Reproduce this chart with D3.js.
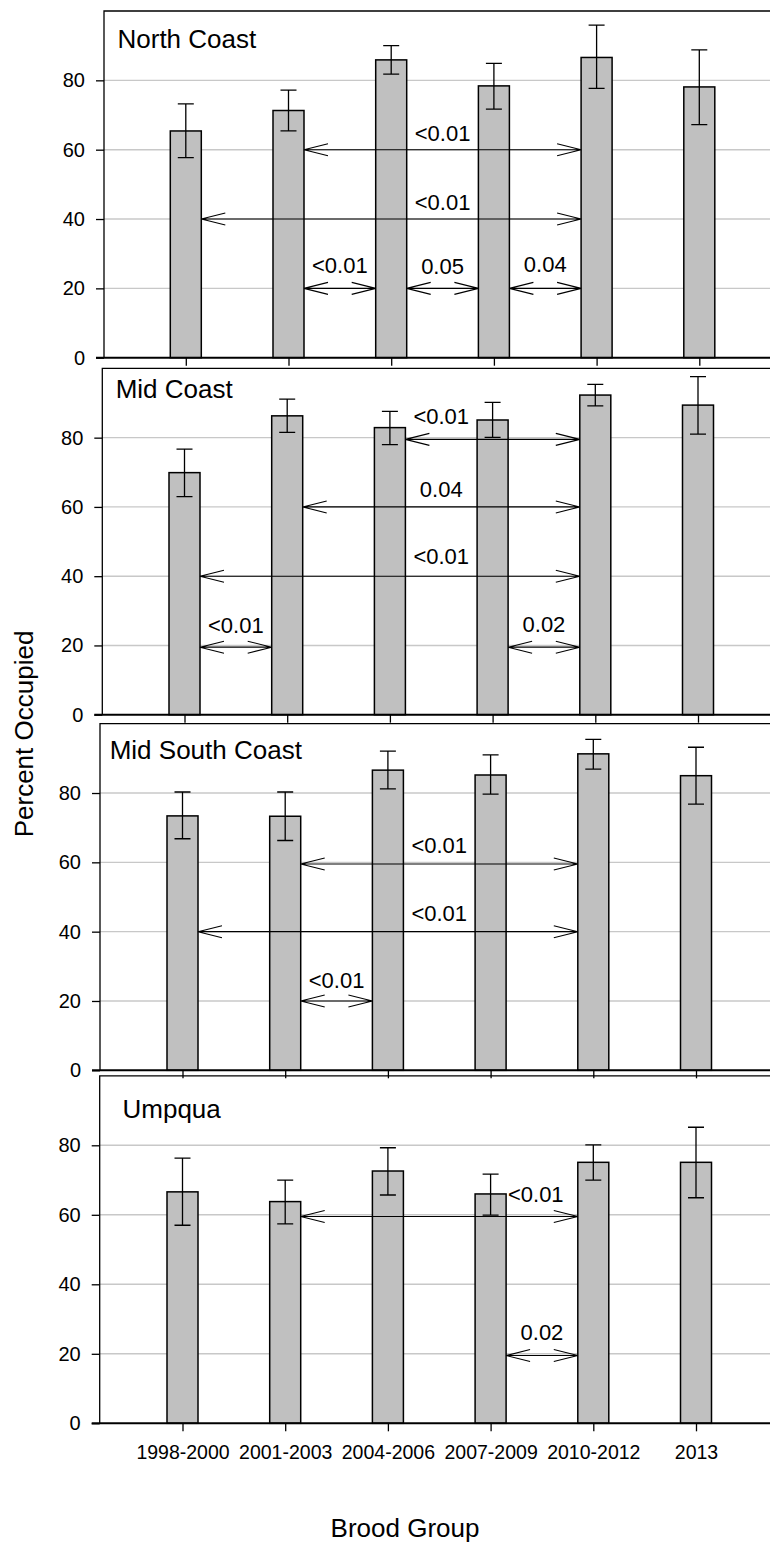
<!DOCTYPE html>
<html>
<head>
<meta charset="utf-8">
<script src="https://cdn.jsdelivr.net/npm/d3@7"></script>
<style>
  html, body { margin: 0; padding: 0; background: #fff; }
  svg { display: block; font-family: "Liberation Sans", Arial, Helvetica, sans-serif; }
</style>
</head>
<body>
<div id="chart"></div>
<script>
// ---------- DATA ----------
const categories = ["1998-2000", "2001-2003", "2004-2006", "2007-2009", "2010-2012", "2013"];
const regions = ["North Coast", "Mid Coast", "Mid South Coast", "Umpqua"];
const yTicks = [0, 20, 40, 60, 80];

const northCoastMean = [65.4, 71.3, 85.9, 78.4, 86.6, 78.1];
const northCoastLow  = [57.7, 65.4, 81.8, 71.7, 77.7, 67.2];
const northCoastHigh = [73.2, 77.2, 90.0, 84.9, 95.9, 88.8];

const midCoastMean = [69.9, 86.3, 82.9, 85.1, 92.3, 89.4];
const midCoastLow  = [63.0, 81.5, 78.0, 80.1, 89.2, 81.0];
const midCoastHigh = [76.7, 91.1, 87.6, 90.2, 95.4, 97.6];

const midSouthMean = [73.4, 73.3, 86.6, 85.2, 91.3, 85.0];
const midSouthLow  = [66.8, 66.3, 81.2, 79.7, 86.9, 76.8];
const midSouthHigh = [80.3, 80.3, 92.1, 91.0, 95.5, 93.2];

const umpquaMean = [66.6, 63.8, 72.6, 66.0, 75.1, 75.1];
const umpquaLow  = [57.0, 57.4, 65.7, 59.9, 70.0, 64.9];
const umpquaHigh = [76.3, 70.0, 79.3, 71.7, 80.1, 85.2];

// pairwise comparisons: from/to category index, arrow value, p label, label index position, label value position
const northCoastTests = [
  {from: 1, to: 4, at: 60, p: "<0.01", lx: 2.5, ly: 62.6},
  {from: 0, to: 4, at: 40, p: "<0.01", lx: 2.5, ly: 42.6},
  {from: 1, to: 2, at: 20, p: "<0.01", lx: 1.5, ly: 24.3},
  {from: 2, to: 3, at: 20, p: "0.05",  lx: 2.5, ly: 24.0},
  {from: 3, to: 4, at: 20, p: "0.04",  lx: 3.5, ly: 24.8}
];
const midCoastTests = [
  {from: 2, to: 4, at: 79.5, p: "<0.01", lx: 2.5, ly: 84.0},
  {from: 1, to: 4, at: 60,   p: "0.04",  lx: 2.5, ly: 62.8},
  {from: 0, to: 4, at: 40,   p: "<0.01", lx: 2.5, ly: 43.5},
  {from: 0, to: 1, at: 19.5, p: "<0.01", lx: 0.5, ly: 23.5},
  {from: 3, to: 4, at: 19.5, p: "0.02",  lx: 3.5, ly: 24.0}
];
const midSouthTests = [
  {from: 1, to: 4, at: 59.5, p: "<0.01", lx: 2.5, ly: 62.7},
  {from: 0, to: 4, at: 40,   p: "<0.01", lx: 2.5, ly: 43.0},
  {from: 1, to: 2, at: 20,   p: "<0.01", lx: 1.5, ly: 23.8}
];
const umpquaTests = [
  {from: 1, to: 4, at: 59.5, p: "<0.01", lx: 3.44, ly: 63.8},
  {from: 3, to: 4, at: 19.5, p: "0.02",  lx: 3.5,  ly: 24.0}
];

const panelMeans = [northCoastMean, midCoastMean, midSouthMean, umpquaMean];
const panelLows = [northCoastLow, midCoastLow, midSouthLow, umpquaLow];
const panelHighs = [northCoastHigh, midCoastHigh, midSouthHigh, umpquaHigh];
const panelTests = [northCoastTests, midCoastTests, midSouthTests, umpquaTests];

// ---------- LAYOUT ----------
const W = 770, H = 1543;
const layout = [
  {top: 11,     bottom: 357.7,  left: 104,   c0: 185.8, tx: 117.5, ty: 48.3},
  {top: 368.4,  bottom: 714.7,  left: 102.3, c0: 184.5, tx: 115.7, ty: 397.7},
  {top: 723.7,  bottom: 1070.3, left: 100,   c0: 182.5, tx: 109.7, ty: 759},
  {top: 1075.8, bottom: 1423.3, left: 99.7,  c0: 182.5, tx: 122.5, ty: 1118}
];
const rightEdge = 780;
const step = 102.7;
const barW = 31;
const capW = 16;

const svg = d3.select("#chart").append("svg")
  .attr("width", W).attr("height", H).attr("viewBox", `0 0 ${W} ${H}`);

layout.forEach((L, pi) => {
  const means = panelMeans[pi], lows = panelLows[pi], highs = panelHighs[pi], tests = panelTests[pi];
  const xi = d3.scaleLinear().domain([0, categories.length - 1]).range([L.c0, L.c0 + step * (categories.length - 1)]);
  const x = d3.scalePoint().domain(categories).range([L.c0, L.c0 + step * (categories.length - 1)]);
  const y = d3.scaleLinear().domain([0, 100]).range([L.bottom, L.top]);
  const g = svg.append("g");

  // gridlines
  g.append("g").selectAll("line").data(yTicks.filter(t => t > 0)).join("line")
    .attr("x1", L.left).attr("x2", rightEdge)
    .attr("y1", d => y(d)).attr("y2", d => y(d))
    .attr("stroke", "#c8c8c8").attr("stroke-width", 1.4);

  // y axis ticks and labels
  const yAxis = d3.axisLeft(y).tickValues(yTicks).tickSize(8).tickPadding(11).tickFormat(d3.format("d"));
  const ya = g.append("g").attr("transform", `translate(${L.left},0)`).call(yAxis);
  ya.select(".domain").remove();
  ya.selectAll(".tick line").attr("stroke", "#000").attr("stroke-width", 1.3);
  ya.selectAll(".tick text").attr("font-size", 20).attr("fill", "#000")
    .attr("font-family", '"Liberation Sans", Arial, sans-serif');

  // frame (top, left; right side runs off the canvas)
  g.append("path")
    .attr("d", `M${L.left},${L.bottom}V${L.top}H${rightEdge}V${L.bottom}`)
    .attr("fill", "none").attr("stroke", "#000").attr("stroke-width", 1.3);

  // bars
  g.append("g").selectAll("rect").data(categories).join("rect")
    .attr("x", d => x(d) - barW / 2)
    .attr("y", (d, i) => y(means[i]))
    .attr("width", barW)
    .attr("height", (d, i) => y(0) - y(means[i]))
    .attr("fill", "#c0c0c0").attr("stroke", "#000").attr("stroke-width", 1.5);

  // error bars
  const eb = g.append("g").attr("stroke", "#000").attr("stroke-width", 1.3).attr("fill", "none");
  eb.selectAll("path").data(categories).join("path")
    .attr("d", (d, i) => {
      const cx = x(d), yl = y(lows[i]), yh = y(highs[i]);
      return `M${cx},${yh}V${yl}M${cx - capW / 2},${yh}H${cx + capW / 2}M${cx - capW / 2},${yl}H${cx + capW / 2}`;
    });

  // zero line + bottom ticks
  const xAxis = d3.axisBottom(x).tickSize(8).tickPadding(14).tickSizeOuter(0);
  const xa = g.append("g").attr("transform", `translate(0,${L.bottom})`).call(xAxis);
  xa.select(".domain").remove();
  xa.selectAll(".tick line").attr("stroke", "#000").attr("stroke-width", 1.3);
  if (pi < layout.length - 1) {
    xa.selectAll(".tick text").remove();
  } else {
    xa.selectAll(".tick text").attr("font-size", 19.5).attr("fill", "#000")
      .attr("font-family", '"Liberation Sans", Arial, sans-serif');
  }
  g.append("line")
    .attr("x1", L.left - 8).attr("x2", rightEdge)
    .attr("y1", L.bottom).attr("y2", L.bottom)
    .attr("stroke", "#000").attr("stroke-width", 2);

  // comparison arrows
  const ar = g.append("g").attr("stroke", "#000").attr("stroke-width", 1.1).attr("fill", "none");
  ar.selectAll("path").data(tests).join("path")
    .attr("d", t => {
      const x1 = xi(t.from) + barW / 2, x2 = xi(t.to) - barW / 2, yy = y(t.at);
      return `M${x1},${yy}H${x2}` +
        `M${x1 + 24},${yy - 6}L${x1},${yy}L${x1 + 24},${yy + 6}` +
        `M${x2 - 24},${yy - 6}L${x2},${yy}L${x2 - 24},${yy + 6}`;
    });
  g.append("g").selectAll("text").data(tests).join("text")
    .attr("x", t => xi(t.lx))
    .attr("y", t => y(t.ly))
    .attr("text-anchor", "middle")
    .attr("font-size", 22)
    .text(t => t.p);

  // panel title
  g.append("text")
    .attr("x", L.tx).attr("y", L.ty)
    .attr("font-size", 26)
    .text(regions[pi]);
});

// axis titles
svg.append("text")
  .attr("transform", "translate(33,734) rotate(-90)")
  .attr("text-anchor", "middle")
  .attr("font-size", 26)
  .text("Percent Occupied");

svg.append("text")
  .attr("x", 405).attr("y", 1537)
  .attr("text-anchor", "middle")
  .attr("font-size", 26)
  .text("Brood Group");
</script>
</body>
</html>
